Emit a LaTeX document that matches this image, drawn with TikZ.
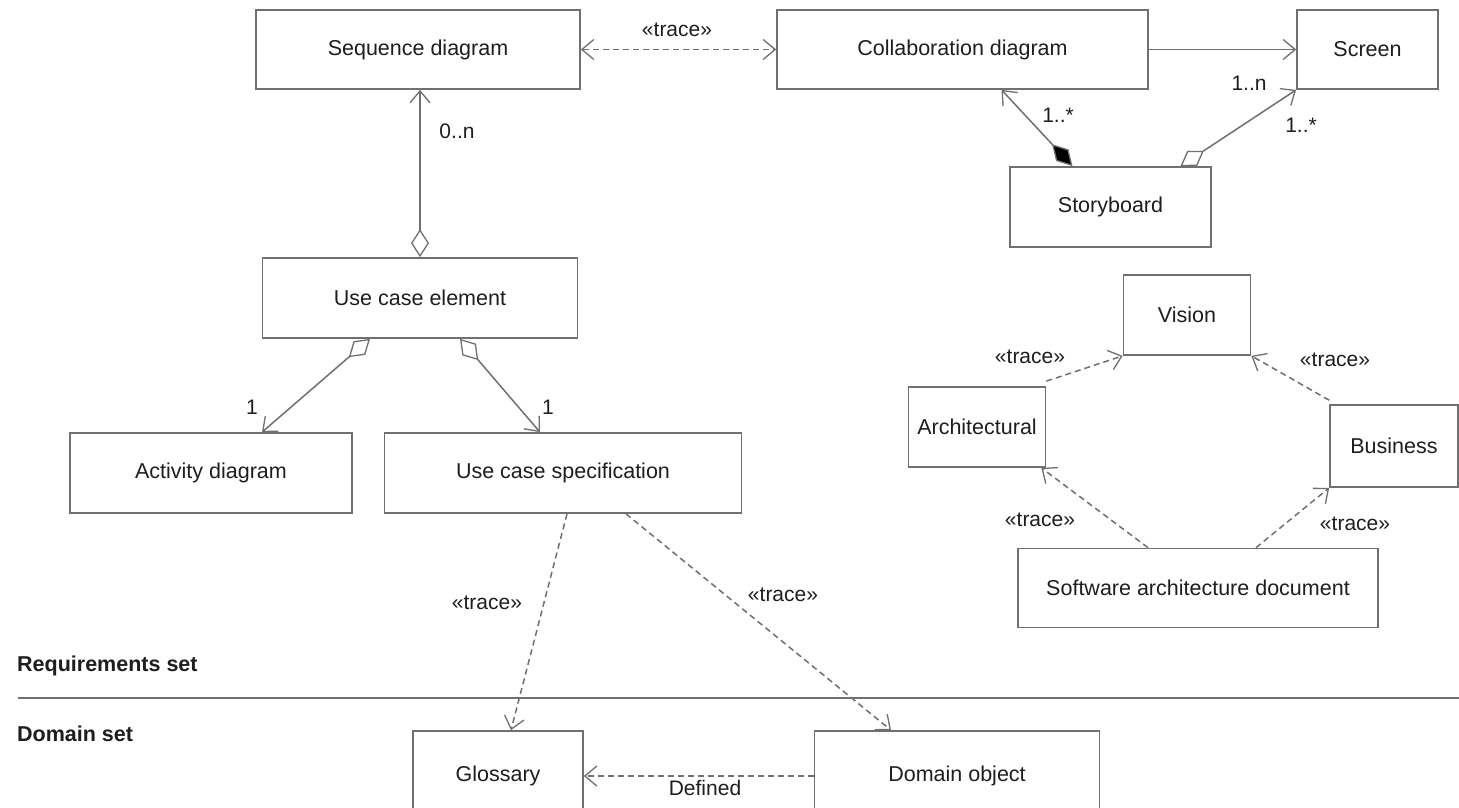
\documentclass[tikz,border=0pt]{standalone}
\usepackage{fontspec}
\setmainfont{Liberation Sans}
\usetikzlibrary{arrows.meta,calc}
\definecolor{edge}{RGB}{112,112,112}
\definecolor{ink}{RGB}{30,30,30}
\tikzset{
  box/.style={draw=edge, line width=1.7pt, rectangle, inner sep=0pt, text=ink,
    font=\fontsize{21.5}{25}\selectfont},
  link/.style={draw=edge, line width=1.5pt},
  dashlink/.style={link, dash pattern=on 6pt off 4pt},
  open/.tip={Straight Barb[length=12pt,width=20pt,line width=1.3pt]},
  agg/.tip={Diamond[open,length=28pt,width=18pt,line width=1.3pt]},
  comp/.tip={Diamond[fill=black,length=30pt,width=17pt,line width=1.3pt]},
  lbl/.style={text=ink, font=\fontsize{21}{24}\selectfont, inner sep=0pt},
  setlbl/.style={text=ink, font=\fontsize{21.5}{25}\selectfont\bfseries, inner sep=0pt, anchor=west},
}
\begin{document}
\begin{tikzpicture}[x=1pt,y=-1pt]
\useasboundingbox (0,0) rectangle (1459,807);
\clip (0,0) rectangle (1459,807);
\fill[white] (0,0) rectangle (1459,807);

% requirements set
\node[box, minimum width=324pt, minimum height=79pt] (seq) at (418,49.5) {Sequence diagram};
\node[box, minimum width=371pt, minimum height=79pt] (col) at (962.5,49.5) {Collaboration diagram};
\node[box, minimum width=141pt, minimum height=79pt] (scr) at (1367.5,49.5) {Screen};
\node[box, minimum width=201pt, minimum height=80pt] (sto) at (1110.5,207) {Storyboard};
\node[box, minimum width=315pt, minimum height=80pt] (uce) at (420,298) {Use case element};
\node[box, minimum width=282pt, minimum height=80pt] (act) at (211,473) {Activity diagram};
\node[box, minimum width=357pt, minimum height=80pt] (ucs) at (563,473) {Use case specification};

\node[box, minimum width=127pt, minimum height=80pt] (vis) at (1187,315) {Vision};
\node[box, minimum width=137pt, minimum height=80pt] (arc) at (977,427) {Architectural};
\node[box, minimum width=128pt, minimum height=82pt] (bus) at (1394,446) {Business};
\node[box, minimum width=360pt, minimum height=79pt] (sad) at (1198,588) {Software architecture document};

% domain set
\node[box, minimum width=170pt, minimum height=90pt] (glo) at (498,776) {Glossary};
\node[box, minimum width=285pt, minimum height=90pt] (dom) at (957,776) {Domain object};

% set divider
\coordinate (divL) at (18,698);
\coordinate (divR) at (1459,698);
\draw[link] (divL) -- (divR);
\node[setlbl] (reqset) at (17,666) {Requirements set};
\node[setlbl] (domset) at (17,734) {Domain set};

% connectors
\draw[dashlink, open-open] (seq.east) -- (col.west);
\node[lbl] (t1) at (677,30) {«trace»};
\draw[link, -open] (col.east) -- (scr.west);

\draw[link, comp-open] ([xshift=-38pt]sto.north) -- ([xshift=39pt]col.south);
\node[lbl] (m1) at (1058,115) {1..*};
\draw[link, agg-open] ([xshift=70pt]sto.north) -- (scr.south west);
\node[lbl] (m2) at (1249,83) {1..n};
\node[lbl] (m3) at (1301,125) {1..*};

\draw[link, agg-open] (uce.north) -- (uce.north |- seq.south);
\node[lbl] (m4) at (457,131) {0..n};

\draw[link, agg-open] ([xshift=-50pt]uce.south) -- ([xshift=51pt]act.north);
\node[lbl] (m5) at (252,407) {1};
\draw[link, agg-open] ([xshift=40pt]uce.south) -- ([xshift=-23pt]ucs.north);
\node[lbl] (m6) at (548,407) {1};

\draw[dashlink, -open] ([xshift=4pt]ucs.south) -- ([xshift=13pt]glo.north);
\node[lbl] (t2) at (487,603) {«trace»};
\draw[dashlink, -open] ([xshift=63pt]ucs.south) -- ([xshift=-66pt]dom.north);
\node[lbl] (t3) at (783,595) {«trace»};

\draw[dashlink, -open] (dom.west) -- (glo.east);
\node[lbl] (d1) at (705,788) {Defined};

\draw[dashlink, -open] ([yshift=5pt]arc.north east) -- (vis.south west);
\node[lbl] (t4) at (1030,357) {«trace»};
\draw[dashlink, -open] ([yshift=4pt]bus.north west) -- (vis.south east);
\node[lbl] (t5) at (1335,360) {«trace»};
\draw[dashlink, -open] ([xshift=-50pt]sad.north) -- ([xshift=-5pt]arc.south east);
\node[lbl] (t6) at (1040,520) {«trace»};
\draw[dashlink, -open] ([xshift=58pt]sad.north) -- (bus.south west);
\node[lbl] (t7) at (1355,524) {«trace»};
\end{tikzpicture}
\end{document}
